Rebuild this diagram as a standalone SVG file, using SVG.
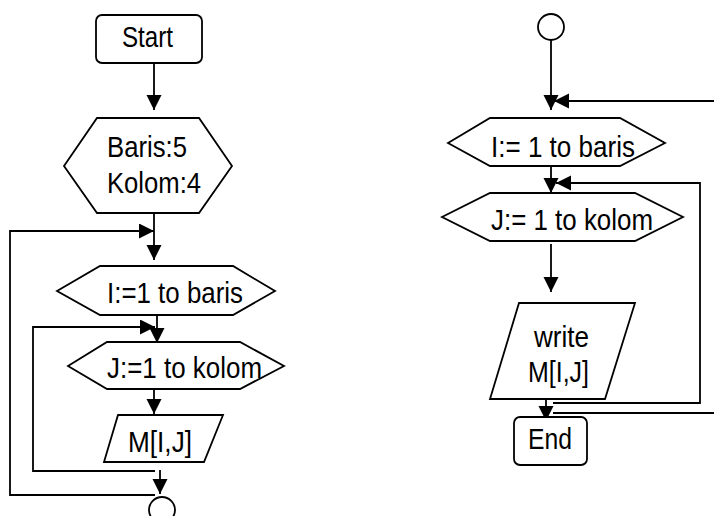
<svg xmlns="http://www.w3.org/2000/svg" width="714" height="516" viewBox="0 0 714 516">
<style>
.s{fill:#fff;stroke:#000;stroke-width:1.8}
.c{fill:none;stroke:#000;stroke-width:1.8}
.t{font-family:"Liberation Sans",Arial,sans-serif;font-size:29px;fill:#000;text-anchor:start}
</style>
<defs>
<marker id="ah" markerUnits="userSpaceOnUse" markerWidth="16" markerHeight="16" viewBox="0 0 16 16" refX="15" refY="7.5" orient="auto">
<path d="M0,0 L15,7.5 L0,15 z" fill="#000"/>
</marker>
</defs>
<rect width="714" height="516" fill="#fff"/>
<g id="connectors">
<line class="c" x1="154" y1="63" x2="154" y2="110" marker-end="url(#ah)"/>
<line class="c" x1="154" y1="213" x2="154" y2="260" marker-end="url(#ah)"/>
<polyline class="c" points="155,495 10,495 10,231 154,231" marker-end="url(#ah)"/>
<line class="c" x1="157" y1="315" x2="157" y2="343" marker-end="url(#ah)"/>
<polyline class="c" points="155,471 33,471 33,327 155,327" marker-end="url(#ah)"/>
<line class="c" x1="154" y1="389" x2="154" y2="414" marker-end="url(#ah)"/>
<line class="c" x1="160" y1="470" x2="160" y2="494" marker-end="url(#ah)"/>
<line class="c" x1="551" y1="40" x2="551" y2="110" marker-end="url(#ah)"/>
<line class="c" x1="714" y1="101" x2="554" y2="101" marker-end="url(#ah)"/>
<line class="c" x1="551" y1="166" x2="551" y2="193" marker-end="url(#ah)"/>
<polyline class="c" points="553,403 700,403 700,183 556,183" marker-end="url(#ah)"/>
<line class="c" x1="551" y1="244" x2="551" y2="292" marker-end="url(#ah)"/>
<line class="c" x1="546" y1="399" x2="546" y2="421" marker-end="url(#ah)"/>
<line class="c" x1="553" y1="413" x2="714" y2="413"/>
</g>
<g id="start">
<rect class="s" x="96" y="15" width="106" height="48" rx="6"/>
<text class="t" x="122" y="47" textLength="51" lengthAdjust="spacingAndGlyphs">Start</text>
</g>
<g id="init">
<polygon class="s" points="64,166 97,118 199,118 232,166 199,213 97,213"/>
<text class="t" x="107" y="157" textLength="80" lengthAdjust="spacingAndGlyphs">Baris:5</text>
<text class="t" x="107" y="193" textLength="94" lengthAdjust="spacingAndGlyphs">Kolom:4</text>
</g>
<g id="loopI">
<polygon class="s" points="57,291 100,266 233,266 275,291 233,315 100,315"/>
<text class="t" x="107" y="303" textLength="136" lengthAdjust="spacingAndGlyphs">I:=1 to baris</text>
</g>
<g id="loopJ">
<polygon class="s" points="68,366 107,342 240,342 284,366 240,389 107,389"/>
<text class="t" x="107" y="378" textLength="155" lengthAdjust="spacingAndGlyphs">J:=1 to kolom</text>
</g>
<g id="input">
<polygon class="s" points="118,415 223,415 204,462 104,462"/>
<text class="t" x="128" y="452" textLength="64" lengthAdjust="spacingAndGlyphs">M[I,J]</text>
</g>
<g id="conn1">
<circle class="s" cx="162" cy="510" r="13"/>
</g>
<g id="conn2">
<circle class="s" cx="551" cy="27" r="13"/>
</g>
<g id="loopI2">
<polygon class="s" points="448,143 490,118 620,118 665,143 620,166 490,166"/>
<text class="t" x="491" y="157" textLength="144" lengthAdjust="spacingAndGlyphs">I:= 1 to baris</text>
</g>
<g id="loopJ2">
<polygon class="s" points="442,217 490,193 635,193 683,217 635,241 490,241"/>
<text class="t" x="491" y="230" textLength="162" lengthAdjust="spacingAndGlyphs">J:= 1 to kolom</text>
</g>
<g id="output">
<polygon class="s" points="519,303 635,303 605,399 490,399"/>
<text class="t" x="534" y="347" textLength="55" lengthAdjust="spacingAndGlyphs">write</text>
<text class="t" x="528" y="382" textLength="61" lengthAdjust="spacingAndGlyphs">M[I,J]</text>
</g>
<g id="end">
<rect class="s" x="514" y="417" width="73" height="48" rx="6"/>
<text class="t" x="528" y="449" textLength="44" lengthAdjust="spacingAndGlyphs">End</text>
</g>
</svg>
